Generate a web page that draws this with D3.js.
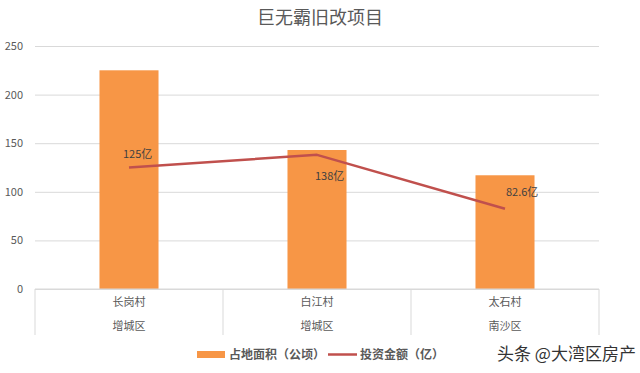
<!DOCTYPE html>
<html>
<head>
<meta charset="utf-8">
<script src="https://cdn.jsdelivr.net/npm/d3@7"></script>
<style>
  body { margin: 0; background: #fff; }
  svg text { font-family: "Noto Sans CJK SC", "Microsoft YaHei", sans-serif; }
</style>
</head>
<body>
<div id="chart"></div>
<script>
// données
const villages = ["长岗村", "白江村", "太石村"]
const districts = ["增城区", "增城区", "南沙区"]
const surface = [225, 143, 117]        // 占地面积（公顷）
const invest = [125, 138, 82.6]        // 投资金额（亿）
const investLabels = ["125亿", "138亿", "82.6亿"]
const yTicks = [0, 50, 100, 150, 200, 250]

const width = 640
const height = 373
const margin = {top: 46, right: 41, bottom: 84, left: 35}

const svg = d3.select("#chart")
  .append("svg")
  .attr("width", width)
  .attr("height", height)

svg.append("rect").attr("width", width).attr("height", height).attr("fill", "#fff")

const x = d3.scaleBand()
  .domain(villages)
  .range([margin.left, width - margin.right])

const y = d3.scaleLinear()
  .domain([0, 250])
  .range([height - margin.bottom, margin.top])

// titre
svg.append("text")
  .attr("x", 320)
  .attr("y", 24)
  .attr("text-anchor", "middle")
  .attr("font-size", 18)
  .attr("fill", "#595959")
  .text("巨无霸旧改项目")

// grille + axe y
const yAxis = svg.append("g")
  .attr("transform", "translate(" + margin.left + ",0)")
  .call(d3.axisLeft(y).tickValues(yTicks).tickSize(-(width - margin.left - margin.right)).tickPadding(12))
yAxis.select(".domain").remove()
yAxis.selectAll("line").attr("stroke", "#d9d9d9")
yAxis.selectAll("text").attr("fill", "#595959").attr("font-size", 11)

// barres
svg.selectAll("rect.bar")
  .data(surface)
  .enter()
  .append("rect")
  .attr("class", "bar")
  .attr("x", (d, i) => x(villages[i]) + x.bandwidth() * 0.343)
  .attr("width", x.bandwidth() * 0.314)
  .attr("y", d => y(d))
  .attr("height", d => y(0) - y(d))
  .attr("fill", "#f79646")

// axe x : ligne du zéro et séparateurs
const y0 = y(0)
svg.append("line")
  .attr("x1", margin.left).attr("x2", width - margin.right)
  .attr("y1", y0).attr("y2", y0)
  .attr("stroke", "#d9d9d9")

const seps = [margin.left].concat(villages.map(v => x(v) + x.bandwidth()))
svg.selectAll("line.sep")
  .data(seps)
  .enter()
  .append("line")
  .attr("class", "sep")
  .attr("x1", d => d).attr("x2", d => d)
  .attr("y1", y0).attr("y2", y0 + 46)
  .attr("stroke", "#d9d9d9")

svg.selectAll("text.village")
  .data(villages)
  .enter()
  .append("text")
  .attr("x", d => x(d) + x.bandwidth() / 2)
  .attr("y", y0 + 17)
  .attr("text-anchor", "middle")
  .attr("font-size", 11)
  .attr("fill", "#595959")
  .text(d => d)

svg.selectAll("text.district")
  .data(districts)
  .enter()
  .append("text")
  .attr("x", (d, i) => x(villages[i]) + x.bandwidth() / 2)
  .attr("y", y0 + 41)
  .attr("text-anchor", "middle")
  .attr("font-size", 11)
  .attr("fill", "#595959")
  .text(d => d)

// courbe investissement
const line = d3.line()
  .x((d, i) => x(villages[i]) + x.bandwidth() / 2)
  .y(d => y(d))

svg.append("path")
  .datum(invest)
  .attr("d", line)
  .attr("fill", "none")
  .attr("stroke", "#c0504d")
  .attr("stroke-width", 2.5)
  .attr("stroke-linejoin", "round")

// étiquettes : au-dessus, en dessous, à droite
const labelDx = [-6, -2, 1]
const labelDy = [-10, 25, -13]
svg.selectAll("text.inv")
  .data(invest)
  .enter()
  .append("text")
  .attr("x", (d, i) => x(villages[i]) + x.bandwidth() / 2 + labelDx[i])
  .attr("y", (d, i) => y(d) + labelDy[i])
  .attr("font-size", 11)
  .attr("fill", "#404040")
  .text((d, i) => investLabels[i])

// légende
svg.append("rect")
  .attr("x", 197).attr("y", 351)
  .attr("width", 28).attr("height", 7)
  .attr("fill", "#f79646")
svg.append("text")
  .attr("x", 229).attr("y", 359)
  .attr("font-size", 12).attr("font-weight", "bold")
  .attr("fill", "#595959")
  .text("占地面积（公顷）")
svg.append("line")
  .attr("x1", 328).attr("x2", 357)
  .attr("y1", 354.5).attr("y2", 354.5)
  .attr("stroke", "#c0504d").attr("stroke-width", 2.5)
svg.append("text")
  .attr("x", 360).attr("y", 359)
  .attr("font-size", 12).attr("font-weight", "bold")
  .attr("fill", "#595959")
  .text("投资金额（亿）")

// filigrane
svg.append("text")
  .attr("x", 497).attr("y", 360)
  .attr("font-size", 17)
  .attr("fill", "#333")
  .text("头条 @大湾区房产")
</script>
</body>
</html>
